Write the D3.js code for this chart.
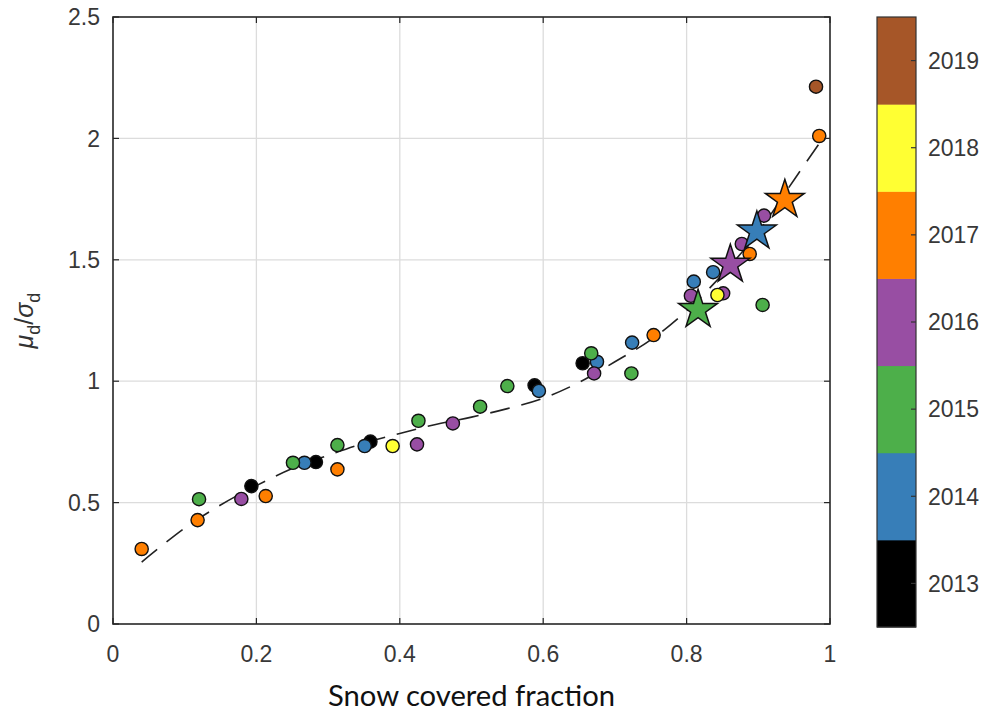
<!DOCTYPE html>
<html>
<head>
<meta charset="utf-8">
<script src="https://cdn.jsdelivr.net/npm/d3@7"></script>
<style>
  html, body { margin: 0; padding: 0; background: #fff; }
  svg { display: block; }
</style>
</head>
<body>
<div id="chart"></div>
<script>
// Circle markers: snow covered fraction, mean/std ratio, year
const snowFrac = [
  0.193, 0.283, 0.359, 0.588, 0.655,
  0.267, 0.351, 0.594, 0.675, 0.724, 0.810, 0.837,
  0.120, 0.251, 0.313, 0.426, 0.512, 0.550, 0.667, 0.723, 0.906,
  0.179, 0.424, 0.474, 0.671, 0.806, 0.851, 0.877, 0.908,
  0.040, 0.118, 0.213, 0.313, 0.754, 0.888, 0.985,
  0.390, 0.843,
  0.9805
];
const ratio = [
  0.568, 0.667, 0.751, 0.983, 1.074,
  0.664, 0.733, 0.960, 1.080, 1.159, 1.410, 1.449,
  0.514, 0.664, 0.737, 0.837, 0.895, 0.980, 1.115, 1.032, 1.314,
  0.515, 0.740, 0.826, 1.032, 1.352, 1.362, 1.565, 1.682,
  0.309, 0.428, 0.527, 0.637, 1.190, 1.524, 2.010,
  0.733, 1.355,
  2.213
];
const pointYear = [
  2013, 2013, 2013, 2013, 2013,
  2014, 2014, 2014, 2014, 2014, 2014, 2014,
  2015, 2015, 2015, 2015, 2015, 2015, 2015, 2015, 2015,
  2016, 2016, 2016, 2016, 2016, 2016, 2016, 2016,
  2017, 2017, 2017, 2017, 2017, 2017, 2017,
  2018, 2018,
  2019
];

// Star markers (one per year)
const starFrac  = [0.898, 0.816, 0.861, 0.937];
const starRatio = [1.609, 1.286, 1.472, 1.739];
const starYear  = [2014, 2015, 2016, 2017];

// Fitted relation (dashed curve)
const fitFrac  = [0.04, 0.10, 0.15, 0.20, 0.25, 0.30, 0.35, 0.40, 0.45, 0.50, 0.55, 0.60, 0.65, 0.70, 0.75, 0.80, 0.85, 0.90, 0.95, 0.99];
const fitRatio = [0.255, 0.395, 0.49, 0.57, 0.64, 0.695, 0.745, 0.785, 0.822, 0.852, 0.887, 0.93, 0.995, 1.08, 1.17, 1.29, 1.44, 1.615, 1.83, 2.0];

// Colour bar
const years = [2013, 2014, 2015, 2016, 2017, 2018, 2019];
const yearColors = ["#000000", "#377eb8", "#4daf4a", "#984ea3", "#ff7f00", "#ffff33", "#a65628"];

// Axis ticks
const xTicks = [0, 0.2, 0.4, 0.6, 0.8, 1];
const yTicks = [0, 0.5, 1, 1.5, 2, 2.5];
const xTickLabels = ["0", "0.2", "0.4", "0.6", "0.8", "1"];
const yTickLabels = ["0", "0.5", "1", "1.5", "2", "2.5"];

const W = 986, H = 715;
const plot = { left: 113, right: 830, top: 17, bottom: 624 };
const axisColor = "#262626";
const labelColor = "#383838";
const fontSans = "'Liberation Sans', Arial, Helvetica, sans-serif";

const svg = d3.select("#chart").append("svg")
  .attr("width", W).attr("height", H);

const x = d3.scaleLinear().domain([0, 1]).range([plot.left, plot.right]);
const y = d3.scaleLinear().domain([0, 2.5]).range([plot.bottom, plot.top]);
const color = d3.scaleOrdinal().domain(years).range(yearColors);

// Grid
const grid = svg.append("g").attr("class", "grid");
grid.selectAll("line.gx").data(xTicks.slice(1, -1)).join("line")
  .attr("x1", d => x(d)).attr("x2", d => x(d))
  .attr("y1", plot.top).attr("y2", plot.bottom)
  .attr("stroke", "#dcdcdc").attr("stroke-width", 1.3);
grid.selectAll("line.gy").data(yTicks.slice(1, -1)).join("line")
  .attr("y1", d => y(d)).attr("y2", d => y(d))
  .attr("x1", plot.left).attr("x2", plot.right)
  .attr("stroke", "#dcdcdc").attr("stroke-width", 1.3);

// Dashed fit curve
const fitData = fitFrac.map((f, i) => [f, fitRatio[i]]);
svg.append("path")
  .datum(fitData)
  .attr("fill", "none")
  .attr("stroke", "#222")
  .attr("stroke-width", 1.6)
  .attr("stroke-dasharray", "20,12")
  .attr("d", d3.line().x(d => x(d[0])).y(d => y(d[1])).curve(d3.curveCatmullRom.alpha(0.5)));

// Circle markers drawn year by year
const pts = snowFrac.map((f, i) => ({ f, r: ratio[i], yr: pointYear[i] }));
svg.append("g").selectAll("circle").data(pts).join("circle")
  .attr("cx", d => x(d.f))
  .attr("cy", d => y(d.r))
  .attr("r", 6.6)
  .attr("fill", d => color(d.yr))
  .attr("stroke", "#111")
  .attr("stroke-width", 1.4);

// Star markers
const stars = starFrac.map((f, i) => ({ f, r: starRatio[i], yr: starYear[i] }));
const starSym = d3.symbol().type(d3.symbolStar).size(470);
svg.append("g").selectAll("path").data(stars).join("path")
  .attr("transform", d => `translate(${x(d.f)},${y(d.r) - 2})`)
  .attr("d", starSym)
  .attr("fill", d => color(d.yr))
  .attr("stroke", "#111")
  .attr("stroke-width", 1.5)
  .attr("stroke-linejoin", "miter");

// Axes box with inward ticks
const axes = svg.append("g");
axes.append("rect")
  .attr("x", plot.left).attr("y", plot.top)
  .attr("width", plot.right - plot.left).attr("height", plot.bottom - plot.top)
  .attr("fill", "none").attr("stroke", axisColor).attr("stroke-width", 1.6);

const tl = 6;
xTicks.forEach(t => {
  axes.append("line").attr("x1", x(t)).attr("x2", x(t)).attr("y1", plot.bottom).attr("y2", plot.bottom - tl)
    .attr("stroke", axisColor).attr("stroke-width", 1.2);
  axes.append("line").attr("x1", x(t)).attr("x2", x(t)).attr("y1", plot.top).attr("y2", plot.top + tl)
    .attr("stroke", axisColor).attr("stroke-width", 1.2);
});
yTicks.forEach(t => {
  axes.append("line").attr("y1", y(t)).attr("y2", y(t)).attr("x1", plot.left).attr("x2", plot.left + tl)
    .attr("stroke", axisColor).attr("stroke-width", 1.2);
  axes.append("line").attr("y1", y(t)).attr("y2", y(t)).attr("x1", plot.right).attr("x2", plot.right - tl)
    .attr("stroke", axisColor).attr("stroke-width", 1.2);
});

// Tick labels
axes.selectAll("text.xt").data(xTicks).join("text")
  .attr("x", d => x(d)).attr("y", 662)
  .attr("text-anchor", "middle")
  .attr("font-family", fontSans).attr("font-size", 23)
  .attr("fill", labelColor)
  .text((d, i) => xTickLabels[i]);
axes.selectAll("text.yt").data(yTicks).join("text")
  .attr("x", 100).attr("y", d => y(d))
  .attr("dy", "0.36em")
  .attr("text-anchor", "end")
  .attr("font-family", fontSans).attr("font-size", 23)
  .attr("fill", labelColor)
  .text((d, i) => yTickLabels[i]);

// Axis titles
svg.append("text")
  .attr("x", (plot.left + plot.right) / 2).attr("y", 706)
  .attr("text-anchor", "middle")
  .attr("font-family", "Lato, 'Open Sans', sans-serif")
  .attr("font-size", 28)
  .attr("textLength", 287).attr("lengthAdjust", "spacingAndGlyphs")
  .attr("fill", "#111")
  .text("Snow covered fraction");

const yl = svg.append("text")
  .attr("transform", `translate(33,${(plot.top + plot.bottom) / 2}) rotate(-90)`)
  .attr("text-anchor", "middle")
  .attr("font-family", fontSans)
  .attr("font-size", 25)
  .attr("fill", "#333");
yl.append("tspan").attr("font-style", "italic").text("μ");
yl.append("tspan").attr("font-size", 18).attr("dy", 7).text("d");
yl.append("tspan").attr("dy", -7).text("/");
yl.append("tspan").attr("font-style", "italic").text("σ");
yl.append("tspan").attr("font-size", 18).attr("dy", 7).text("d");

// Colour bar
const cb = { left: 877, right: 916, top: 17, bottom: 627 };
const cbY = d3.scaleBand().domain(years.slice().reverse()).range([cb.top, cb.bottom]).paddingInner(0);
const cbg = svg.append("g");
cbg.selectAll("rect.seg").data(years).join("rect")
  .attr("x", cb.left).attr("width", cb.right - cb.left)
  .attr("y", d => cbY(d)).attr("height", cbY.bandwidth() + 0.5)
  .attr("fill", d => color(d));
cbg.append("rect")
  .attr("x", cb.left).attr("y", cb.top)
  .attr("width", cb.right - cb.left).attr("height", cb.bottom - cb.top)
  .attr("fill", "none").attr("stroke", "#333").attr("stroke-width", 1.2);
cbg.selectAll("line.cbt").data(years).join("line")
  .attr("x1", cb.right).attr("x2", cb.right - 5)
  .attr("y1", d => cbY(d) + cbY.bandwidth() / 2)
  .attr("y2", d => cbY(d) + cbY.bandwidth() / 2)
  .attr("stroke", "#333").attr("stroke-width", 1.2);
cbg.selectAll("text.cbl").data(years).join("text")
  .attr("x", 928)
  .attr("y", d => cbY(d) + cbY.bandwidth() / 2)
  .attr("dy", "0.36em")
  .attr("font-family", fontSans).attr("font-size", 23)
  .attr("fill", labelColor)
  .text(d => d);
</script>
</body>
</html>
